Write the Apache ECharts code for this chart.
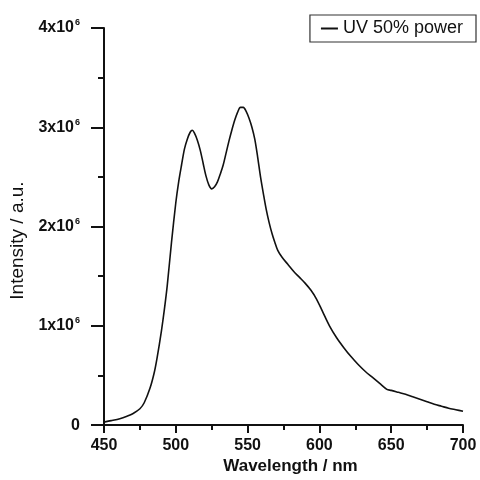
<!DOCTYPE html>
<html>
<head>
<meta charset="utf-8">
<script src="https://cdn.jsdelivr.net/npm/echarts@6/dist/echarts.min.js"></script>
<style>html,body{margin:0;padding:0;background:#fff}#c{width:480px;height:480px}</style>
</head>
<body>
<div id="c"></div>
<script>
var seriesName = 'UV 50% power';
var xTicks = [450, 500, 550, 600, 650, 700];
var yTickLabels = ['0', '1x10', '2x10', '3x10', '4x10'];
var wavelength = [450,455,461,466,470,475,478,482,485,487,490,492,494,497,500,502,504,506,508,510,511.5,513,515,517,519,521,523,525,527,529,531,533,535,537,539,541,543,545,547,549,551,553,555,557,559,561,563,565,567,569,571,574,578,582,586,590,594,598,602,607,612,617,622,627,632,637,642,647,650,655,660,665,670,675,680,685,690,695,700];
var intensity = [0.03,0.045,0.065,0.09,0.115,0.165,0.225,0.37,0.53,0.68,0.95,1.16,1.40,1.84,2.24,2.45,2.62,2.78,2.88,2.95,2.97,2.94,2.87,2.77,2.64,2.51,2.42,2.38,2.40,2.45,2.53,2.62,2.74,2.86,2.97,3.07,3.15,3.20,3.20,3.16,3.09,3.00,2.88,2.70,2.50,2.33,2.17,2.04,1.93,1.84,1.76,1.69,1.62,1.55,1.49,1.43,1.36,1.27,1.15,1.00,0.88,0.78,0.69,0.61,0.54,0.48,0.42,0.36,0.35,0.33,0.31,0.285,0.26,0.235,0.21,0.19,0.17,0.155,0.14];

var FONT = 'Arial, "Liberation Sans", sans-serif';
var data = wavelength.map(function (w, i) { return [w, intensity[i] * 1e6]; });
var chart = echarts.init(document.getElementById('c'));
chart.setOption({
  animation: false,
  backgroundColor: '#fff',
  grid: { left: 104, right: 17, top: 28, bottom: 50 },
  legend: {
    data: [seriesName],
    right: 4, top: 15,
    orient: 'horizontal',
    borderColor: '#333', borderWidth: 1.2, borderRadius: 0,
    padding: [4, 13, 4, 11],
    icon: 'rect', itemWidth: 17, itemHeight: 2,
    textStyle: { fontFamily: FONT, fontSize: 18, color: '#111', lineHeight: 19 }
  },
  xAxis: {
    type: 'value', min: 450, max: 700, interval: 50,
    name: 'Wavelength / nm', nameLocation: 'middle', nameGap: 30,
    nameTextStyle: { fontFamily: FONT, fontSize: 17, fontWeight: 'bold', color: '#111', padding: [0, 0, 0, 14] },
    axisLine: { lineStyle: { color: '#111', width: 2 } },
    axisTick: { show: true, inside: false, length: 8, lineStyle: { color: '#111', width: 2 } },
    minorTick: { show: true, splitNumber: 2, length: 5, lineStyle: { color: '#111', width: 2 } },
    splitLine: { show: false },
    axisLabel: {
      margin: 12, fontFamily: FONT, fontSize: 16, fontWeight: 'bold', color: '#111',
      formatter: function (v) { return xTicks.indexOf(v) >= 0 ? String(v) : ''; }
    }
  },
  yAxis: {
    type: 'value', min: 0, max: 4e6, interval: 1e6,
    name: 'Intensity / a.u.', nameLocation: 'middle', nameGap: 76, nameRotate: 90,
    nameTextStyle: { fontFamily: FONT, fontSize: 19, color: '#111', padding: [0, 28, 0, 0] },
    axisLine: { show: true, lineStyle: { color: '#111', width: 2 } },
    axisTick: { show: true, inside: false, length: 13, lineStyle: { color: '#111', width: 2 } },
    minorTick: { show: true, splitNumber: 2, length: 6, lineStyle: { color: '#111', width: 2 } },
    splitLine: { show: false },
    axisLabel: {
      margin: 24, fontFamily: FONT, color: '#111',
      formatter: function (v) {
        var i = Math.round(v / 1e6);
        if (i === 0) return '{b|' + yTickLabels[0] + '}';
        return '{b|' + yTickLabels[i] + '}{s|6}';
      },
      rich: {
        b: { fontFamily: FONT, fontSize: 16, fontWeight: 'bold', color: '#111' },
        s: { fontFamily: FONT, fontSize: 9, fontWeight: 'bold', color: '#111', padding: [0, 0, 10, 1] }
      }
    }
  },
  series: [{
    name: seriesName, type: 'line', data: data,
    showSymbol: false, symbol: 'none', smooth: 0.3,
    lineStyle: { color: '#111', width: 1.6 },
    itemStyle: { color: '#111' }
  }]
});
</script>
</body>
</html>
